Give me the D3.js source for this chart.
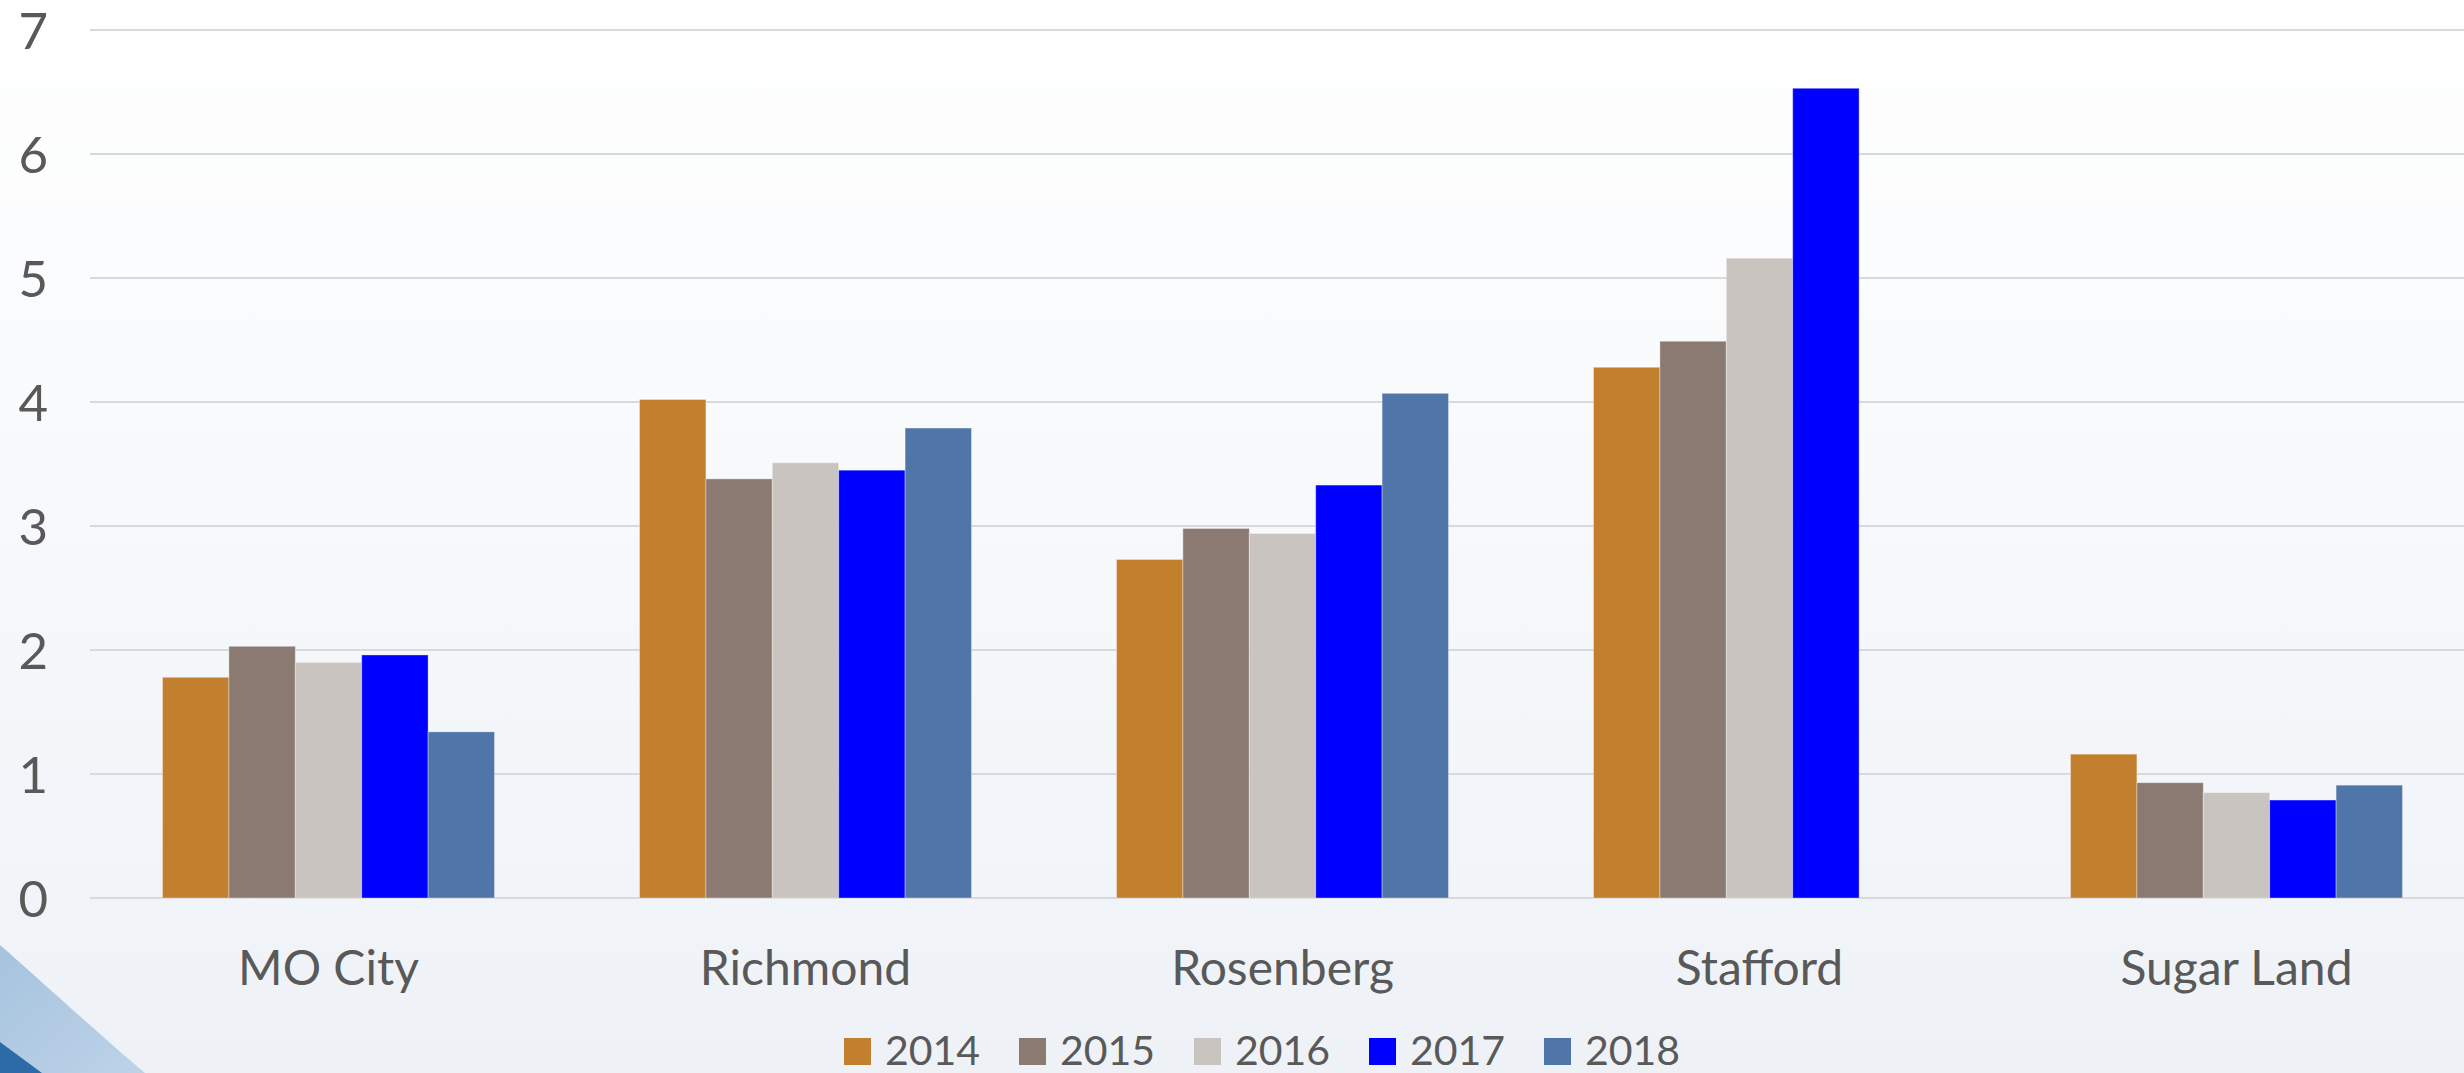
<!DOCTYPE html>
<html>
<head>
<meta charset="utf-8">
<script src="https://cdn.jsdelivr.net/npm/d3@7"></script>
<style>
  html, body { margin: 0; padding: 0; background: #ffffff; }
  svg { display: block; }
  text { font-family: Lato, "Open Sans", sans-serif; fill: #595959; }
</style>
</head>
<body>
<svg id="chart"></svg>
<script>
// data
const cities = ["MO City", "Richmond", "Rosenberg", "Stafford", "Sugar Land"];
const years = ["2014", "2015", "2016", "2017", "2018"];
const colors = ["#c27f2e", "#8b7a72", "#c9c4c0", "#0000ff", "#5075a9"];
const yTicks = [0, 1, 2, 3, 4, 5, 6, 7];

const v2014 = [1.78, 4.02, 2.73, 4.28, 1.16];
const v2015 = [2.03, 3.38, 2.98, 4.49, 0.93];
const v2016 = [1.90, 3.51, 2.94, 5.16, 0.85];
const v2017 = [1.96, 3.45, 3.33, 6.53, 0.79];
const v2018 = [1.34, 3.79, 4.07, null, 0.91];
const series = [v2014, v2015, v2016, v2017, v2018];

const W = 2464, H = 1073;
const svg = d3.select("#chart").attr("width", W).attr("height", H);

// background
const defs = svg.append("defs");
const bg = defs.append("linearGradient").attr("id", "bg").attr("x1", 0).attr("y1", 0).attr("x2", 0).attr("y2", 1);
bg.append("stop").attr("offset", "0%").attr("stop-color", "#ffffff");
bg.append("stop").attr("offset", "100%").attr("stop-color", "#eef2f7");
const sw = defs.append("linearGradient").attr("id", "swoosh").attr("x1", 0).attr("y1", 0).attr("x2", 1).attr("y2", 1);
sw.append("stop").attr("offset", "0%").attr("stop-color", "#a6c3de");
sw.append("stop").attr("offset", "100%").attr("stop-color", "#bdd3e8");

svg.append("rect").attr("width", W).attr("height", H).attr("fill", "url(#bg)");
svg.append("path").attr("d", "M0,945 C40,980 100,1035 145,1073 L0,1073 Z").attr("fill", "url(#swoosh)");
svg.append("path").attr("d", "M0,1042 L42,1073 L0,1073 Z").attr("fill", "#2d6ba8");

// scales
const x0 = d3.scaleBand().domain(cities).range([90, 2475]).paddingInner(0.304).paddingOuter(0.152);
const x1 = d3.scaleBand().domain(years).range([0, x0.bandwidth()]).padding(0);
const y = d3.scaleLinear().domain([0, 7]).range([898, 30]);

// gridlines
svg.append("g").selectAll("line")
    .data(yTicks)
    .enter().append("line")
    .attr("x1", 90).attr("x2", W)
    .attr("y1", d => y(d)).attr("y2", d => y(d))
    .attr("stroke", "#d9d9d9").attr("stroke-width", 2);

// y axis labels
const yAxis = svg.append("g")
    .attr("transform", "translate(48,0)")
    .call(d3.axisLeft(y).tickValues(yTicks).tickSize(0).tickPadding(0).tickFormat(d3.format("d")));
yAxis.select(".domain").remove();
yAxis.selectAll("text")
    .attr("font-size", 51)
    .attr("dy", "0.36em")
    .style("font-family", "Lato, 'Open Sans', sans-serif")
    .attr("fill", "#595959");

// bars
const groups = svg.append("g").selectAll("g")
    .data(cities)
    .enter().append("g")
    .attr("transform", d => `translate(${x0(d)},0)`);

groups.selectAll("rect")
    .data((c, ci) => years.map((yr, i) => ({ yr, i, v: series[i][ci] })).filter(d => d.v !== null))
    .enter().append("rect")
    .attr("x", d => x1(d.yr))
    .attr("width", x1.bandwidth())
    .attr("y", d => y(d.v))
    .attr("height", d => y(0) - y(d.v))
    .attr("fill", d => colors[d.i])
    .attr("stroke", "rgba(255,255,255,0.35)")
    .attr("stroke-width", 1);

// x axis labels
const xAxis = svg.append("g")
    .attr("transform", "translate(0,985)")
    .call(d3.axisBottom(x0).tickSize(0).tickPadding(0));
xAxis.select(".domain").remove();
xAxis.selectAll("text")
    .attr("y", 0).attr("dy", 0)
    .attr("font-size", 48)
    .style("font-family", "Lato, 'Open Sans', sans-serif")
    .attr("fill", "#595959");

// legend
const legend = svg.append("g").selectAll("g")
    .data(years)
    .enter().append("g")
    .attr("transform", (d, i) => `translate(${844 + i * 175},1038)`);
legend.append("rect").attr("width", 27).attr("height", 27).attr("fill", (d, i) => colors[i]);
legend.append("text")
    .attr("x", 41).attr("y", 27)
    .attr("font-size", 41)
    .text(d => d);
</script>
</body>
</html>
